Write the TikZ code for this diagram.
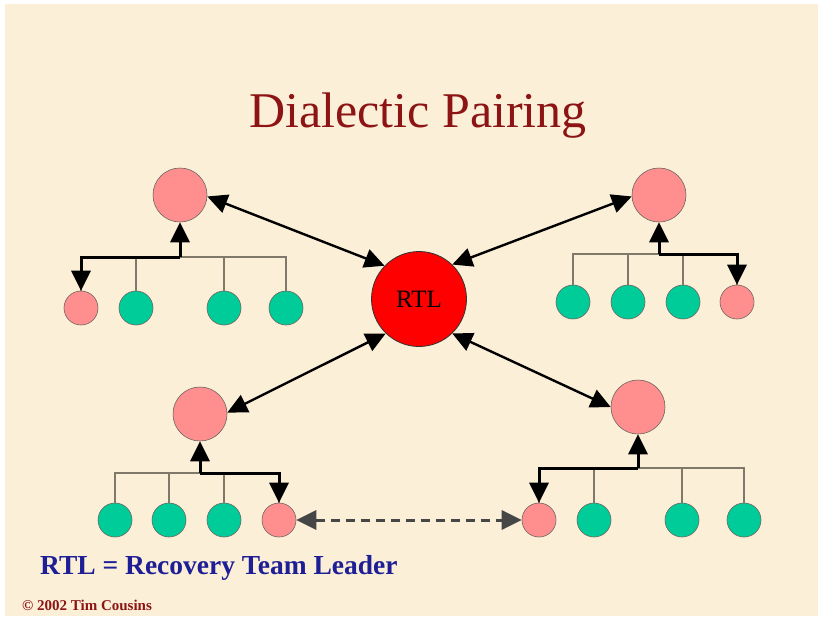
\documentclass[tikz,border=0pt]{standalone}
\usepackage{fontspec}
\setmainfont{Liberation Serif}
\usetikzlibrary{arrows.meta}
\definecolor{paper}{RGB}{251,239,215}
\definecolor{leadpink}{RGB}{255,143,143}
\definecolor{memgreen}{RGB}{0,204,153}
\definecolor{rtlred}{RGB}{255,0,0}
\definecolor{titlered}{RGB}{140,20,20}
\definecolor{legendblue}{RGB}{30,30,150}
\definecolor{wirecol}{RGB}{128,120,105}
\definecolor{rimcol}{RGB}{110,100,95}
\definecolor{dashcol}{RGB}{70,70,70}

\begin{document}
\begin{tikzpicture}[x=1pt,y=-1pt,
  every node/.style={inner sep=0pt},
  bigpink/.style={circle, draw=rimcol, line width=0.6pt, fill=leadpink, minimum size=54pt},
  kidpink/.style={circle, draw=rimcol, line width=0.6pt, fill=leadpink, minimum size=34pt},
  kidgreen/.style={circle, draw=rimcol, line width=0.6pt, fill=memgreen, minimum size=34pt},
  leader/.style={circle, draw=black!80, line width=0.8pt, fill=rtlred, minimum size=95pt,
    font=\fontsize{25}{27}\selectfont},
  wire/.style={draw=wirecol, line width=1.4pt},
  bigtip/.tip={Triangle[length=20pt,width=19pt]},
  link/.style={line width=2.4pt, bigtip-bigtip},
  feed/.style={line width=3pt, -bigtip},
  peer/.style={draw=dashcol, line width=3pt, dash pattern=on 9pt off 6pt, bigtip-bigtip},
]
% page
\useasboundingbox (0,0) rectangle (818,616);
\fill[white] (0,0) rectangle (818,616);
\fill[paper] (5,4) rectangle (818,616);

% titles
\node[anchor=base, text=titlered, font=\fontsize{50}{60}\selectfont] (title) at (418,127) {Dialectic Pairing};
\node[anchor=base west, text=legendblue, font=\bfseries\fontsize{27.5}{30}\selectfont] (legend) at (40,574) {RTL = Recovery Team Leader};
\node[anchor=base west, text=titlered, font=\bfseries\fontsize{15}{17}\selectfont] (copy) at (22,610) {© 2002 Tim Cousins};

% centre
\node[leader] (rtl) at (419,299) {RTL};

% top-left team
\node[bigpink] (tl) at (180,195) {};
\coordinate (tlj) at (180,257);
\node[kidpink]  (tl1) at (81,308) {};
\node[kidgreen] (tl2) at (136,308) {};
\node[kidgreen] (tl3) at (224,308) {};
\node[kidgreen] (tl4) at (286,308) {};

% top-right team
\node[bigpink] (tr) at (659,195) {};
\coordinate (trj) at (659,254);
\node[kidgreen] (tr1) at (573,302) {};
\node[kidgreen] (tr2) at (628,302) {};
\node[kidgreen] (tr3) at (683,302) {};
\node[kidpink]  (tr4) at (737,302) {};

% bottom-left team
\node[bigpink] (bl) at (200,414) {};
\coordinate (blj) at (200,473);
\node[kidgreen] (bl1) at (115,520) {};
\node[kidgreen] (bl2) at (169,520) {};
\node[kidgreen] (bl3) at (224,520) {};
\node[kidpink]  (bl4) at (279,520) {};

% bottom-right team
\node[bigpink] (br) at (638,407) {};
\coordinate (brj) at (638,468);
\node[kidpink]  (br1) at (539,520) {};
\node[kidgreen] (br2) at (594,520) {};
\node[kidgreen] (br3) at (682,520) {};
\node[kidgreen] (br4) at (744,520) {};

% thin team wiring
\foreach \t in {tl,tr,bl,br}{
  \foreach \k in {1,2,3,4}{
    \draw[wire] (\t\k.north) |- (\t j);
  }
}

% reporting lines
\draw[feed] (tlj) -- (tl.south);
\draw[feed] (tlj) -| (tl1.north);
\draw[feed] (trj) -- (tr.south);
\draw[feed] (trj) -| (tr4.north);
\draw[feed] (blj) -- (bl.south);
\draw[feed] (blj) -| (bl4.north);
\draw[feed] (brj) -- (br.south);
\draw[feed] (brj) -| (br1.north);

% links to the leader
\draw[link] (tl.-3) -- (rtl.136);
\draw[link] (tr.183) -- (rtl.46);
\draw[link] (bl.3) -- (rtl.226);
\draw[link] (br.180) -- (rtl.-46);

% peer pairing
\draw[peer] (bl4.east) -- (br1.west);
\end{tikzpicture}
\end{document}
